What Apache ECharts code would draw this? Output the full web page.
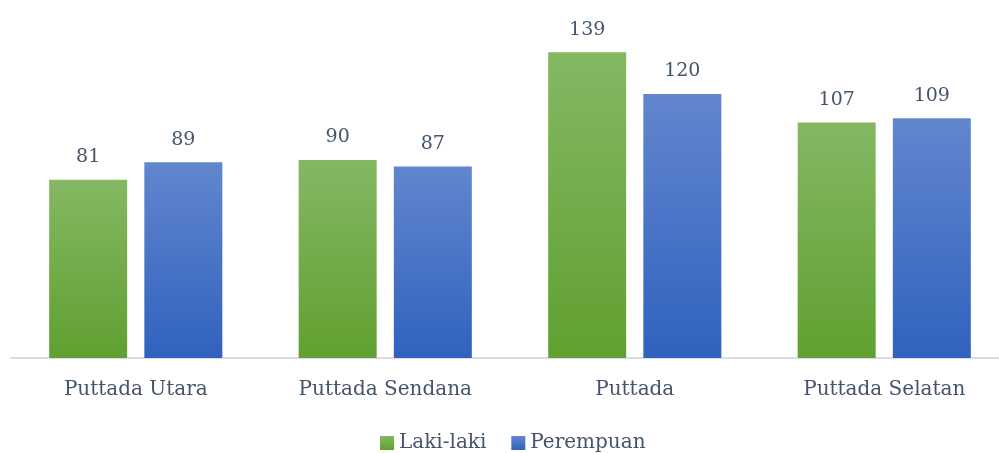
<!DOCTYPE html>
<html><head><meta charset="utf-8">
<script src="https://cdn.jsdelivr.net/npm/echarts@6/dist/echarts.min.js"></script>
<style>html,body{margin:0;padding:0;background:#fff;overflow:hidden}#c{width:1012px;height:453px}</style>
</head><body><div id="c"></div>
<script>
const categories = ['Puttada Utara', 'Puttada Sendana', 'Puttada', 'Puttada Selatan'];
const lakiLaki = [81, 90, 139, 107];
const perempuan = [89, 87, 120, 109];
const seriesNames = ['Laki-laki', 'Perempuan'];

const font = 'DejaVu Serif';
const txt = '#44546a';
function grad(top, bottom) {
  return new echarts.graphic.LinearGradient(0, 0, 0, 1, [
    { offset: 0, color: top }, { offset: 1, color: bottom }
  ]);
}
const chart = echarts.init(document.getElementById('c'));
chart.setOption({
  animation: false,
  grid: { left: 11, right: 3, top: 6, bottom: 95 },
  legend: {
    left: 380, top: 433, padding: 0, itemWidth: 14, itemHeight: 14, itemGap: 25,
    icon: 'rect',
    textStyle: { fontFamily: font, fontSize: 20, color: txt },
    data: seriesNames
  },
  xAxis: {
    type: 'category', data: categories,
    axisLine: { lineStyle: { color: '#d9dde4', width: 2 } },
    axisTick: { show: false },
    axisLabel: { fontFamily: font, fontSize: 20, color: txt, margin: 22 }
  },
  yAxis: { type: 'value', min: 0, max: 160, show: false, splitLine: { show: false } },
  series: [
    {
      name: seriesNames[0], type: 'bar', data: lakiLaki, barWidth: 78, barGap: '22%',
      itemStyle: { color: grad('#84b863', '#60a030') },
      label: { show: true, position: 'top', distance: 13, fontFamily: font, fontSize: 19, color: txt }
    },
    {
      name: seriesNames[1], type: 'bar', data: perempuan, barWidth: 78,
      itemStyle: { color: grad('#6286ce', '#3062be') },
      label: { show: true, position: 'top', distance: 13, fontFamily: font, fontSize: 19, color: txt }
    }
  ]
});
</script></body></html>
